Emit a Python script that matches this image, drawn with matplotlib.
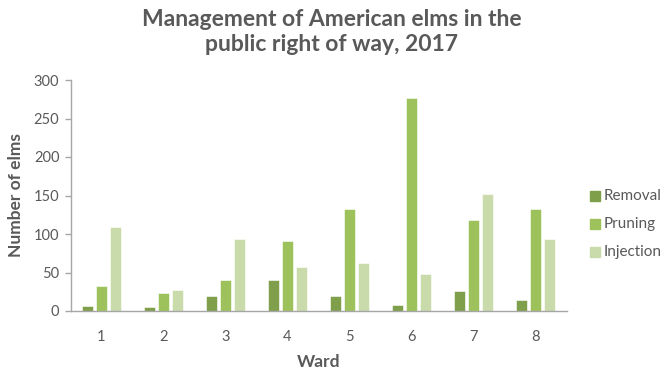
import matplotlib
matplotlib.use("Agg")
import matplotlib.pyplot as plt
import numpy as np
from matplotlib.patches import Rectangle

wards = ["1", "2", "3", "4", "5", "6", "7", "8"]
removal = [7, 5, 19, 40, 20, 8, 26, 14]
pruning = [32, 23, 40, 91, 133, 276, 118, 133]
injection = [109, 27, 94, 57, 62, 48, 152, 94]
series_names = ["Removal", "Pruning", "Injection"]
colors = ["#809f4a", "#9dc25b", "#c9dbab"]

plt.rcParams["font.family"] = ["Lato", "DejaVu Sans"]
txt = "#595959"

fig = plt.figure(figsize=(6.63, 3.69), dpi=100)
W, H = 663, 369
ax = fig.add_axes([70.5 / W, 1 - 311 / H, 496 / W, 231 / H])

x = np.arange(len(wards))
width = 0.172
step = 0.221
for i, (vals, c) in enumerate(zip([removal, pruning, injection], colors)):
    ax.bar(x + (i - 1) * step, vals, width=width, color=c,
           edgecolor="white", linewidth=0.4, zorder=2)

ax.set_xlim(-0.5, len(wards) - 0.5)
ax.set_ylim(0, 300)
ax.set_yticks(np.arange(0, 301, 50))
ax.set_xticks(x)
ax.set_xticklabels(wards)
for s in ["top", "right"]:
    ax.spines[s].set_visible(False)
for s in ["left", "bottom"]:
    ax.spines[s].set_color("#a6a6a6")
    ax.spines[s].set_linewidth(1.0)
ax.tick_params(axis="y", length=4, width=1, color="#a6a6a6",
               labelsize=10.5, labelcolor=txt, pad=4)
ax.tick_params(axis="x", length=0, labelsize=10.5, labelcolor=txt, pad=14)

ax.set_ylabel("Number of elms", fontsize=12.5, fontweight="bold", color=txt,
              labelpad=7)
ax.set_xlabel("Ward", fontsize=12.5, fontweight="bold", color=txt, labelpad=7)

fig.text(0.5, 1 - 32 / H,
         "Management of American elms in the\npublic right of way, 2017",
         ha="center", va="center", fontsize=16.5, fontweight="bold",
         color=txt, linespacing=1.25)

# legend drawn as squares with labels on the right side
for i, (name, c) in enumerate(zip(series_names, colors)):
    yc = 196 + i * 28
    fig.patches.append(Rectangle((590 / W, 1 - (yc + 5) / H), 10 / W, 10 / H,
                                 transform=fig.transFigure, color=c))
    fig.text(604 / W, 1 - yc / H, name, ha="left", va="center",
             fontsize=11, color=txt)

fig.savefig("out.png", dpi=100)
